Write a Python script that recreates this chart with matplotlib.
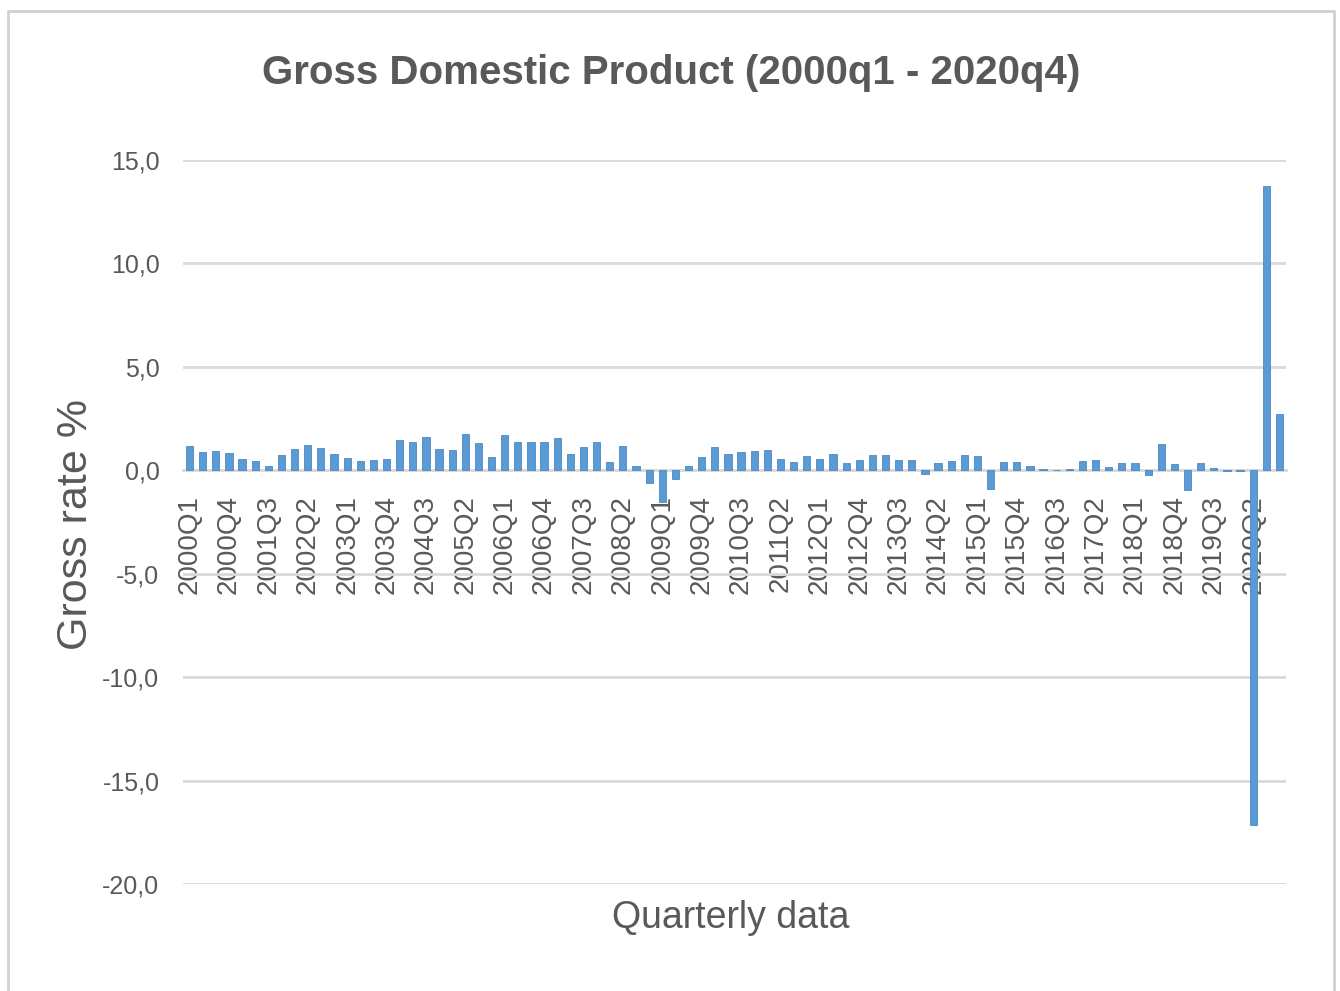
import matplotlib
matplotlib.use("Agg")
import numpy as np
from matplotlib import pyplot as plt
from matplotlib.patches import Rectangle

# quarters 2000Q1 .. 2020Q4
years = list(range(2000, 2021))
quarters = [f"{y}Q{q}" for y in years for q in range(1, 5)]

# quarter-on-quarter growth, %
growth = [
    1.16, 0.89, 0.94, 0.82,    # 2000
    0.56, 0.45, 0.21, 0.73,    # 2001
    1.03, 1.24, 1.10, 0.81,    # 2002
    0.61, 0.45, 0.48, 0.53,    # 2003
    1.45, 1.35, 1.60, 1.02,    # 2004
    0.97, 1.74, 1.32, 0.65,    # 2005
    1.69, 1.37, 1.35, 1.35,    # 2006
    1.58, 0.81, 1.13, 1.37,    # 2007
    0.40, 1.19, 0.20, -0.60,   # 2008
    -1.55, -0.40, 0.20, 0.65,  # 2009
    1.13, 0.81, 0.89, 0.92,    # 2010
    0.97, 0.53, 0.39, 0.68,    # 2011
    0.55, 0.81, 0.37, 0.48,    # 2012
    0.76, 0.73, 0.48, 0.52,    # 2013
    -0.20, 0.35, 0.45, 0.73,   # 2014
    0.69, -0.90, 0.40, 0.40,   # 2015
    0.19, 0.08, 0.02, 0.06,    # 2016
    0.45, 0.52, 0.16, 0.35,    # 2017
    0.37, -0.25, 1.26, 0.32,   # 2018
    -0.97, 0.37, 0.11, -0.05,  # 2019
    -0.05, -17.15, 13.75, 2.70,  # 2020
]

yticks = [15, 10, 5, 0, -5, -10, -15, -20]

grey_txt = "#595959"
grid_col = "#d9d9d9"
fam = ["Liberation Sans", "DejaVu Sans"]

W, H = 1340, 991
fig = plt.figure(figsize=(W / 100, H / 100), dpi=100)
fig.patch.set_facecolor("white")

# outer chart frame
fig.patches.append(Rectangle((8 / W, -0.05), (1334 - 8) / W, 1.05 - 11 / H,
                             transform=fig.transFigure, fill=False,
                             edgecolor="#d0d0d0", linewidth=2))

ax = fig.add_axes([183 / W, 1 - 884 / H, (1286 - 183) / W, (884 - 160) / H])

# category axis sits on the zero line (set before the labels, it resets ticks)
for side in ["top", "right", "left"]:
    ax.spines[side].set_visible(False)
ax.spines["bottom"].set_position(("data", 0))
ax.spines["bottom"].set_color(grid_col)
ax.spines["bottom"].set_linewidth(2)

x = np.arange(len(quarters))
ax.bar(x, growth, width=0.55, color="#5b9bd5", edgecolor="#4a88c2",
       linewidth=0.6, zorder=3)

ax.set_ylim(-20, 15)
ax.set_xlim(-0.5, len(quarters) - 0.5)
ax.set_yticks(yticks)
ax.set_yticklabels([f"{v:.1f}".replace(".", ",") for v in yticks],
                   fontfamily=fam, fontsize=18, color=grey_txt)
ax.yaxis.grid(True, color=grid_col, linewidth=2, zorder=0)
ax.tick_params(axis="y", length=0, pad=17)

ax.set_xticks(x[::3])
ax.set_xticklabels(quarters[::3], rotation=90, fontfamily=fam,
                   fontsize=20, color=grey_txt)
ax.tick_params(axis="x", length=0, pad=18)

fig.text(671 / W, 1 - 73 / H, "Gross Domestic Product (2000q1 - 2020q4)",
         ha="center", va="center", fontfamily=fam, fontweight="bold",
         fontsize=29, color=grey_txt)
fig.text(731 / W, 1 - 918 / H, "Quarterly data", ha="center", va="center",
         fontfamily=fam, fontsize=27, color=grey_txt)
fig.text(76 / W, 1 - 525 / H, "Gross rate %", ha="center", va="center",
         rotation=90, fontfamily=fam, fontsize=31, color=grey_txt)

plt.savefig("out.png", dpi=100)
